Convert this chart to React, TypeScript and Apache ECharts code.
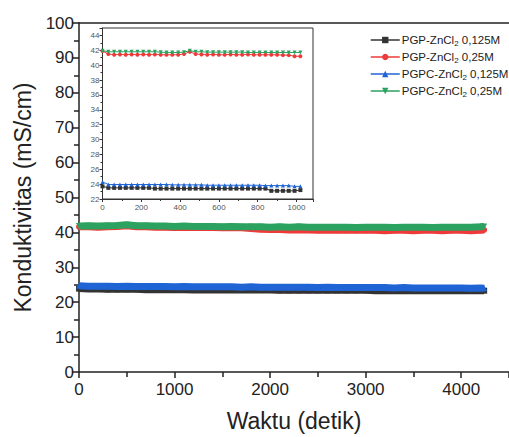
import React, { useEffect, useRef } from "react";
import * as echarts from "echarts";

const seriesNames = ["PGP-ZnCl2 0,125M", "PGP-ZnCl2 0,25M", "PGPC-ZnCl2 0,125M", "PGPC-ZnCl2 0,25M"];
const seriesColors = ["#333333", "#ee3a3a", "#1f64d4", "#2ca260"];
const seriesSymbols = ["rect", "circle", "triangle", "path://M0,0L10,0L5,9Z"];

const mainTime = [0, 100, 200, 300, 400, 500, 600, 700, 800, 900, 1000, 1100, 1200, 1300, 1400, 1500, 1600, 1700, 1800, 1900, 2000, 2100, 2200, 2300, 2400, 2500, 2600, 2700, 2800, 2900, 3000, 3100, 3200, 3300, 3400, 3500, 3600, 3700, 3800, 3900, 4000, 4100, 4200, 4240];
const blackMain = [23.9, 23.8, 23.8, 23.7, 23.7, 23.7, 23.7, 23.6, 23.6, 23.6, 23.6, 23.6, 23.5, 23.5, 23.5, 23.5, 23.5, 23.5, 23.5, 23.5, 23.5, 23.4, 23.4, 23.4, 23.4, 23.4, 23.4, 23.4, 23.4, 23.4, 23.4, 23.3, 23.3, 23.3, 23.3, 23.3, 23.3, 23.3, 23.3, 23.3, 23.3, 23.3, 23.3, 23.3];
const redMain = [41.6, 41.6, 41.5, 41.6, 41.7, 41.9, 41.6, 41.6, 41.5, 41.5, 41.4, 41.5, 41.4, 41.4, 41.4, 41.3, 41.4, 41.3, 41.1, 40.9, 40.8, 40.8, 40.7, 40.7, 40.7, 40.6, 40.7, 40.6, 40.6, 40.6, 40.6, 40.6, 40.5, 40.6, 40.6, 40.5, 40.6, 40.6, 40.5, 40.6, 40.6, 40.5, 40.6, 40.7];
const blueMain = [24.7, 24.6, 24.6, 24.6, 24.5, 24.6, 24.5, 24.5, 24.5, 24.5, 24.4, 24.5, 24.4, 24.4, 24.4, 24.4, 24.4, 24.3, 24.4, 24.3, 24.3, 24.3, 24.3, 24.3, 24.3, 24.2, 24.3, 24.2, 24.2, 24.2, 24.2, 24.2, 24.2, 24.1, 24.2, 24.1, 24.1, 24.1, 24.1, 24.1, 24.1, 24.0, 24.1, 24.0];
const greenMain = [41.8, 41.9, 41.8, 41.9, 42.0, 42.2, 41.9, 41.9, 41.8, 41.8, 41.7, 41.8, 41.7, 41.7, 41.7, 41.6, 41.7, 41.6, 41.6, 41.6, 41.5, 41.6, 41.5, 41.6, 41.5, 41.5, 41.5, 41.5, 41.5, 41.4, 41.5, 41.5, 41.5, 41.4, 41.5, 41.5, 41.5, 41.4, 41.5, 41.5, 41.5, 41.5, 41.6, 41.7];

const insetTime = [0, 30, 60, 90, 120, 150, 180, 210, 240, 270, 300, 330, 360, 390, 420, 450, 480, 510, 540, 570, 600, 630, 660, 690, 720, 750, 780, 810, 840, 870, 900, 930, 960, 990, 1020];
const blackInset = [23.7, 23.5, 23.5, 23.5, 23.5, 23.5, 23.5, 23.5, 23.5, 23.4, 23.4, 23.4, 23.4, 23.4, 23.4, 23.4, 23.4, 23.4, 23.4, 23.4, 23.4, 23.4, 23.4, 23.4, 23.4, 23.4, 23.4, 23.4, 23.4, 23.1, 23.1, 23.1, 23.1, 23.1, 23.2];
const redInset = [41.9, 41.5, 41.4, 41.45, 41.4, 41.45, 41.4, 41.45, 41.4, 41.45, 41.4, 41.4, 41.4, 41.4, 41.5, 41.8, 41.5, 41.45, 41.4, 41.45, 41.4, 41.4, 41.45, 41.4, 41.4, 41.45, 41.4, 41.4, 41.4, 41.4, 41.4, 41.35, 41.35, 41.2, 41.2];
const blueInset = [24.3, 23.95, 23.95, 23.95, 23.95, 23.95, 23.95, 23.95, 23.95, 23.95, 23.95, 23.95, 23.9, 23.9, 23.9, 23.9, 23.9, 23.9, 23.85, 23.85, 23.85, 23.85, 23.85, 23.85, 23.85, 23.85, 23.85, 23.85, 23.8, 23.8, 23.8, 23.8, 23.8, 23.7, 23.7];
const greenInset = [41.95, 41.8, 41.8, 41.8, 41.8, 41.8, 41.8, 41.8, 41.8, 41.8, 41.75, 41.7, 41.7, 41.7, 41.75, 41.95, 41.8, 41.8, 41.75, 41.75, 41.75, 41.75, 41.75, 41.75, 41.75, 41.7, 41.7, 41.7, 41.7, 41.7, 41.7, 41.7, 41.7, 41.7, 41.7];

const mainValues = [blackMain, redMain, blueMain, greenMain];
const insetValues = [blackInset, redInset, blueInset, greenInset];

const FONT = "Liberation Sans, Arial, sans-serif";
const AX = "#222222";
const plain = (v: number) => String(v);

export default function App() {
  const ref = useRef<HTMLDivElement>(null);
  useEffect(() => {
    if (!ref.current) return;
    const chart = echarts.init(ref.current, null, { renderer: "svg" });
    const mainSeries = mainValues.map((vals, i) => ({
      name: seriesNames[i],
      type: "line",
      xAxisIndex: 0,
      yAxisIndex: 0,
      data: mainTime.map((t, j) => [t, vals[j]]),
      symbol: seriesSymbols[i],
      symbolSize: 6,
      showSymbol: true,
      lineStyle: { color: seriesColors[i], width: 7 },
      itemStyle: { color: seriesColors[i] },
      z: 3 + i,
    }));
    const insetSeries = insetValues.map((vals, i) => ({
      name: seriesNames[i],
      type: "line",
      xAxisIndex: 2,
      yAxisIndex: 1,
      data: insetTime.map((t, j) => [t, vals[j]]),
      symbol: seriesSymbols[i],
      symbolSize: 4,
      showSymbol: true,
      lineStyle: { color: seriesColors[i], width: 1 },
      itemStyle: { color: seriesColors[i] },
      z: 13 + i,
    }));
    chart.setOption({
      animation: false,
      backgroundColor: "#ffffff",
      textStyle: { fontFamily: FONT },
      legend: {
        data: seriesNames,
        orient: "vertical",
        left: 365,
        top: 29,
        itemWidth: 29,
        itemHeight: 8,
        itemGap: 4,
        lineStyle: { width: 1.5 },
        formatter: (n: string) => n.replace("ZnCl2", "ZnCl{sub|2}"),
        textStyle: {
          fontFamily: FONT,
          fontSize: 11.5,
          color: "#222",
          padding: [0, 0, 0, -3],
          rich: {
            sub: { fontFamily: FONT, fontSize: 8, color: "#222", padding: [6, 0, 0, 0] },
          },
        },
      },
      grid: [
        { left: 79, right: -4, top: 23, bottom: 64, containLabel: false },
        {
          left: 102.5,
          right: 196,
          top: 28,
          bottom: 238,
          show: true,
          backgroundColor: "#ffffff",
          borderColor: "#333",
          borderWidth: 1,
          z: 10,
        },
      ],
      xAxis: [
        {
          type: "value",
          gridIndex: 0,
          min: 0,
          max: 4500,
          interval: 1000,
          name: "Waktu (detik)",
          nameLocation: "middle",
          nameGap: 37,
          nameTextStyle: { fontFamily: FONT, fontSize: 23, color: "#222" },
          axisLine: { show: true, onZero: false, lineStyle: { color: AX, width: 1.5 } },
          axisTick: { show: true, length: 6, lineStyle: { color: AX, width: 1.5 } },
          minorTick: { show: true, splitNumber: 2, length: 5, lineStyle: { color: AX, width: 1.5 } },
          axisLabel: { fontFamily: FONT, fontSize: 17, color: "#222", margin: 9, showMaxLabel: false, formatter: plain },
          splitLine: { show: false },
        },
        {
          type: "value",
          gridIndex: 0,
          position: "top",
          min: 0,
          max: 4500,
          axisLine: { show: true, onZero: false, lineStyle: { color: AX, width: 1.5 } },
          axisTick: { show: false },
          axisLabel: { show: false },
          splitLine: { show: false },
        },
        {
          type: "value",
          gridIndex: 1,
          min: 0,
          max: 1085,
          interval: 200,
          axisLine: { show: true, onZero: false, lineStyle: { color: "#333", width: 1 } },
          axisTick: { show: true, length: 3, lineStyle: { color: "#333" } },
          minorTick: { show: true, splitNumber: 2, length: 2, lineStyle: { color: "#333" } },
          axisLabel: { fontFamily: FONT, fontSize: 8, color: "#555", margin: 4, showMaxLabel: false, formatter: plain },
          splitLine: { show: false },
          z: 11,
        },
      ],
      yAxis: [
        {
          type: "value",
          gridIndex: 0,
          min: 0,
          max: 100,
          interval: 10,
          name: "Konduktivitas (mS/cm)",
          nameLocation: "middle",
          nameGap: 45,
          nameTextStyle: { fontFamily: FONT, fontSize: 23, color: "#222" },
          axisLine: { show: true, onZero: false, lineStyle: { color: AX, width: 1.5 } },
          axisTick: { show: true, length: 7, lineStyle: { color: AX, width: 1.5 } },
          minorTick: { show: true, splitNumber: 2, length: 5, lineStyle: { color: AX, width: 1.5 } },
          axisLabel: { fontFamily: FONT, fontSize: 17, color: "#222", margin: 5 },
          splitLine: { show: false },
        },
        {
          type: "value",
          gridIndex: 1,
          min: 22,
          max: 45,
          interval: 2,
          axisLine: { show: true, onZero: false, lineStyle: { color: "#333", width: 1 } },
          axisTick: { show: true, length: 3, lineStyle: { color: "#333" } },
          minorTick: { show: true, splitNumber: 2, length: 2, lineStyle: { color: "#333" } },
          axisLabel: { fontFamily: FONT, fontSize: 8, color: "#555", margin: 3, showMaxLabel: false },
          splitLine: { show: false },
          z: 11,
        },
      ],
      series: [...mainSeries, ...insetSeries],
    });
    return () => chart.dispose();
  }, []);
  return (
    <div
      ref={ref}
      style={{ position: "fixed", left: 0, top: 0, width: 509, height: 437, background: "#fff" }}
    />
  );
}
